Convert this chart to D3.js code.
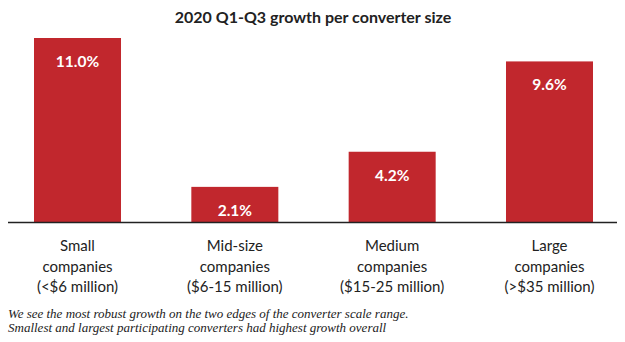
<!DOCTYPE html>
<html>
<head>
<meta charset="utf-8">
<script src="https://cdn.jsdelivr.net/npm/d3@7"></script>
<style>
  body { margin: 0; background: #fff; }
  svg { display: block; }
</style>
</head>
<body>
<svg id="chart" width="625" height="342"></svg>
<script>
// ── data ─────────────────────────────────────────────
const categories = [
    ["Small", "companies", "(<$6 million)"],
    ["Mid-size", "companies", "($6-15 million)"],
    ["Medium", "companies", "($15-25 million)"],
    ["Large", "companies", "(>$35 million)"]
];
const growth = [11.0, 2.1, 4.2, 9.6];
const notes = [
    "We see the most robust growth on the two edges of the converter scale range.",
    "Smallest and largest participating converters had highest growth overall"
];

// ── layout ───────────────────────────────────────────
const BASE_Y = 222;
const TOP_Y  = 38;
const RED    = "#c1272d";
const SANS   = "Lato, 'Open Sans', sans-serif";

const svg = d3.select("#chart");

const x = d3.scaleBand()
    .domain(d3.range(categories.length))
    .range([34, 593])
    .paddingInner(0.447)
    .paddingOuter(0);

const y = d3.scaleLinear().domain([0, 11.0]).range([BASE_Y, TOP_Y]);

// title
svg.append("text")
    .attr("x", 313).attr("y", 23)
    .attr("text-anchor", "middle")
    .style("font-family", SANS)
    .style("font-weight", "bold")
    .style("font-size", "16px")
    .style("fill", "#222")
    .text("2020 Q1-Q3 growth per converter size");

// bars
svg.append("g").selectAll("rect")
    .data(growth)
    .join("rect")
    .attr("x", (d, i) => x(i))
    .attr("y", d => y(d))
    .attr("width", x.bandwidth())
    .attr("height", d => BASE_Y - y(d))
    .attr("fill", RED);

// value labels inside bars
svg.append("g").selectAll("text")
    .data(growth)
    .join("text")
    .attr("x", (d, i) => x(i) + x.bandwidth() / 2)
    .attr("y", d => y(d) + 29)
    .attr("text-anchor", "middle")
    .style("font-family", SANS)
    .style("font-weight", "bold")
    .style("font-size", "15.5px")
    .style("fill", "#fff")
    .text(d => d.toFixed(1) + "%");

// baseline
svg.append("line")
    .attr("x1", 8).attr("x2", 617)
    .attr("y1", BASE_Y + 0.5).attr("y2", BASE_Y + 0.5)
    .attr("stroke", "#222").attr("stroke-width", 1.3);

// category labels
const cat = svg.append("g").selectAll("text")
    .data(categories)
    .join("text")
    .attr("x", (d, i) => x(i) + x.bandwidth() / 2)
    .attr("y", 251)
    .attr("text-anchor", "middle")
    .style("font-family", SANS)
    .style("font-size", "15px")
    .style("fill", "#222");
cat.selectAll("tspan")
    .data(d => d)
    .join("tspan")
    .attr("x", function () { return d3.select(this.parentNode).attr("x"); })
    .attr("dy", (d, i) => i === 0 ? 0 : 20.5)
    .text(d => d);

// footnote
svg.append("g").selectAll("text")
    .data(notes)
    .join("text")
    .attr("x", 8)
    .attr("y", (d, i) => 318 + i * 14)
    .style("font-family", "'Liberation Serif', 'DejaVu Serif', serif")
    .style("font-style", "italic")
    .style("font-size", "13px")
    .style("fill", "#222")
    .text(d => d);
</script>
</body>
</html>
